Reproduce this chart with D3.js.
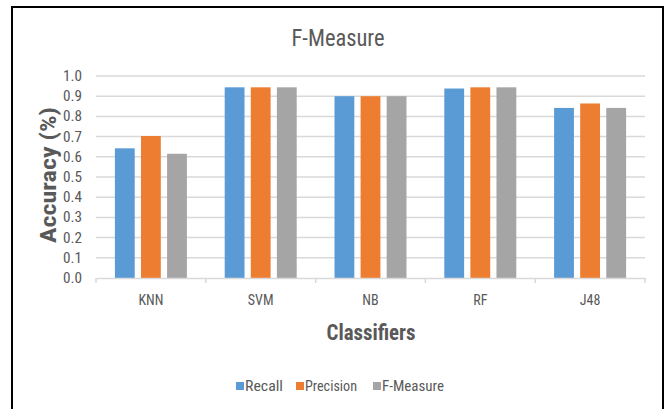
<!DOCTYPE html>
<html>
<head>
<meta charset="utf-8">
<script src="https://cdn.jsdelivr.net/npm/d3@7"></script>
<style>
  body { margin: 0; background: #fff; }
  text { font-family: "Liberation Sans Narrow", "Roboto Condensed", Roboto, "Liberation Sans", Arial, sans-serif; }
</style>
</head>
<body>
<div id="chart"></div>
<script>
var classifiers = ["KNN", "SVM", "NB", "RF", "J48"];
var seriesNames = ["Recall", "Precision", "F-Measure"];
var recall = [0.642, 0.944, 0.90, 0.938, 0.842];
var precision = [0.703, 0.944, 0.90, 0.944, 0.864];
var fMeasure = [0.615, 0.944, 0.90, 0.944, 0.842];
var yTicks = [0, 0.1, 0.2, 0.3, 0.4, 0.5, 0.6, 0.7, 0.8, 0.9, 1.0];

var width = 669,
    height = 409,
    margin = {top: 76, left: 96, right: 24, bottom: 131};

var color = d3.scaleOrdinal()
    .domain(seriesNames)
    .range(["#5b9bd5", "#ed7d31", "#a5a5a5"]);

var svg = d3.select("#chart")
    .append("svg")
    .attr("width", width)
    .attr("height", height);

svg.append("rect")
    .attr("x", 12).attr("y", 7)
    .attr("width", 651).attr("height", 420)
    .attr("fill", "#fff")
    .attr("stroke", "#000")
    .attr("stroke-width", 2);

var x = d3.scaleBand()
    .domain(classifiers)
    .range([margin.left, width - margin.right]);

var xInner = d3.scaleBand()
    .domain(seriesNames)
    .range([0, 72])
    .paddingInner(0.24);

var y = d3.scaleLinear()
    .domain([0, 1])
    .range([height - margin.bottom, margin.top]);

// gridlines
svg.append("g")
    .selectAll("line")
    .data(yTicks.slice(1))
    .enter().append("line")
    .attr("x1", margin.left).attr("x2", width - margin.right)
    .attr("y1", function (d) { return y(d); })
    .attr("y2", function (d) { return y(d); })
    .attr("stroke", "#d9d9d9")
    .attr("stroke-width", 1.5);

// y tick labels
svg.append("g")
    .selectAll("text")
    .data(yTicks)
    .enter().append("text")
    .attr("x", 82)
    .attr("y", function (d) { return y(d); })
    .attr("dy", "0.35em")
    .attr("text-anchor", "end")
    .style("font-size", "14px")
    .style("fill", "#595959")
    .attr("textLength", 19)
    .attr("lengthAdjust", "spacingAndGlyphs")
    .text(function (d) { return d3.format(".1f")(d); });

var rows = classifiers.map(function (c, i) {
    return {name: c, values: [recall[i], precision[i], fMeasure[i]]};
});

var groups = svg.append("g")
    .selectAll("g")
    .data(rows)
    .enter().append("g")
    .attr("transform", function (d) {
        return "translate(" + (x(d.name) + (x.bandwidth() - 72) / 2) + ",0)";
    });

groups.selectAll("rect")
    .data(function (d) {
        return d.values.map(function (v, j) { return {key: seriesNames[j], value: v}; });
    })
    .enter().append("rect")
    .attr("x", function (d) { return xInner(d.key); })
    .attr("width", xInner.bandwidth())
    .attr("y", function (d) { return y(d.value); })
    .attr("height", function (d) { return y(0) - y(d.value); })
    .attr("fill", function (d) { return color(d.key); });

// x axis
var xAxis = svg.append("g")
    .attr("transform", "translate(0," + y(0) + ")")
    .call(d3.axisBottom(x).tickSize(0).tickPadding(17));
xAxis.select(".domain").attr("stroke", "#d9d9d9").attr("stroke-width", 1.5);
xAxis.selectAll("text")
    .style("font-size", "14px")
    .style("fill", "#595959")
    .style("font-family", null);

svg.append("g")
    .selectAll("line")
    .data(classifiers.concat(["end"]))
    .enter().append("line")
    .attr("x1", function (d, i) { return margin.left + i * x.bandwidth(); })
    .attr("x2", function (d, i) { return margin.left + i * x.bandwidth(); })
    .attr("y1", y(0)).attr("y2", y(0) + 5)
    .attr("stroke", "#d9d9d9")
    .attr("stroke-width", 1.5);

// titles
svg.append("text")
    .attr("x", 338).attr("y", 46)
    .attr("text-anchor", "middle")
    .style("font-size", "24px")
    .style("fill", "#595959")
    .attr("textLength", 93)
    .attr("lengthAdjust", "spacingAndGlyphs")
    .text("F-Measure");

svg.append("text")
    .attr("transform", "translate(56,175) rotate(-90)")
    .attr("text-anchor", "middle")
    .style("font-size", "22px")
    .style("font-weight", "bold")
    .style("fill", "#595959")
    .attr("textLength", 136)
    .attr("lengthAdjust", "spacingAndGlyphs")
    .text("Accuracy (%)");

svg.append("text")
    .attr("x", 371).attr("y", 340)
    .attr("text-anchor", "middle")
    .style("font-size", "22px")
    .style("font-weight", "bold")
    .style("fill", "#595959")
    .attr("textLength", 89)
    .attr("lengthAdjust", "spacingAndGlyphs")
    .text("Classifiers");

// legend
var legendX = [236, 296, 373];
var legendLen = [38, 52, 62];
var legend = svg.append("g")
    .selectAll("g")
    .data(seriesNames)
    .enter().append("g")
    .attr("transform", function (d, i) { return "translate(" + legendX[i] + ",386)"; });
legend.append("rect")
    .attr("x", 0).attr("y", -4)
    .attr("width", 8).attr("height", 8)
    .attr("fill", color);
legend.append("text")
    .attr("x", 9).attr("y", 0)
    .attr("dy", "0.35em")
    .style("font-size", "15px")
    .style("fill", "#595959")
    .attr("textLength", function (d, i) { return legendLen[i]; })
    .attr("lengthAdjust", "spacingAndGlyphs")
    .text(function (d) { return d; });
</script>
</body>
</html>
